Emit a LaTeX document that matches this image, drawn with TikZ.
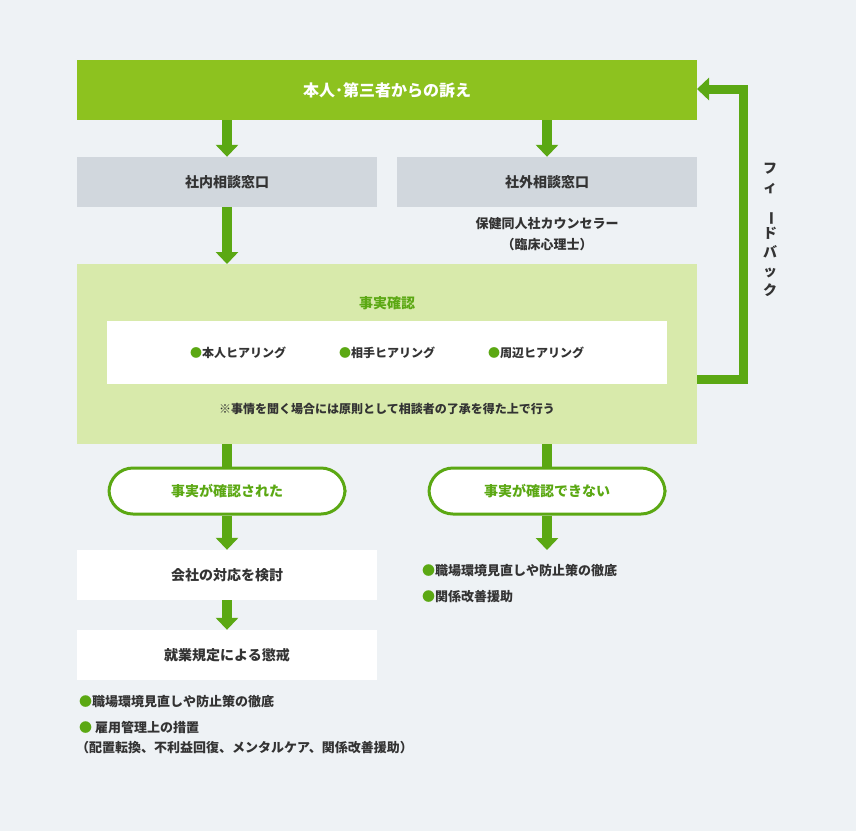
\documentclass[tikz,border=0pt]{standalone}
\usepackage{fontspec}
\usepackage{graphicx}
\setmainfont{Noto Sans CJK JP}
\usetikzlibrary{arrows.meta}
\definecolor{bg}{HTML}{EEF2F5}
\definecolor{lime}{HTML}{8DC21F}
\definecolor{grn}{HTML}{5BA813}
\definecolor{pale}{HTML}{D8EAAB}
\definecolor{gry}{HTML}{D1D7DD}
\definecolor{ink}{HTML}{333333}
\newcommand{\gb}{{\color{grn}●}}
\tikzset{
  box/.style={minimum width=300pt, minimum height=50pt, inner sep=0pt, font=\bfseries\fontsize{14}{16}\selectfont, text=ink},
  pill/.style={draw=grn, line width=3pt, fill=white, rounded corners=24pt, minimum width=236pt, minimum height=46pt, text=grn, font=\bfseries\fontsize{14}{16}\selectfont},
  txt/.style={text=ink, font=\bfseries\fontsize{12}{14}\selectfont, inner sep=0pt},
  flow/.style={draw=grn, line width=10pt, -{Triangle[width=22pt,length=12pt]}}
}
\begin{document}
\begin{tikzpicture}[x=1pt,y=-1pt]
        \fill[bg] (0,0) rectangle (856,831);
        \useasboundingbox (0,0) rectangle (856,831);
        % top
        \node[fill=lime, minimum width=620pt, minimum height=60pt, inner sep=0pt, text=white, font=\bfseries\fontsize{16}{18}\selectfont] (claim) at (387,90) {本人･第三者からの訴え};
        \node[box, fill=gry] (inner) at (227,182) {社内相談窓口};
        \node[box, fill=gry] (outer) at (547,182) {社外相談窓口};
        \node[txt, align=center, font=\bfseries\fontsize{13}{21}\selectfont] (couns) at (547,234) {保健同人社カウンセラー\\（臨床心理士）};
        % check
        \node[fill=pale, minimum width=620pt, minimum height=180pt, inner sep=0pt] (check) at (387,354) {};
        \node[text=grn, font=\bfseries\fontsize{14}{16}\selectfont] (checkt) at (387,303) {事実確認};
        \node[fill=white, minimum width=560pt, minimum height=63pt] (hear) at (387,352.5) {};
        \node[txt] (h1) at (238,353) {\gb 本人ヒアリング};
        \node[txt] (h2) at (387,353) {\gb 相手ヒアリング};
        \node[txt] (h3) at (536,353) {\gb 周辺ヒアリング};
        \node[txt] (note) at (387,409) {※事情を聞く場合には原則として相談者の了承を得た上で行う};
        % results
        \node[pill] (yes) at (227,491) {事実が確認された};
        \node[pill] (no) at (547,491) {事実が確認できない};
        \node[box, fill=white] (study) at (227,575) {会社の対応を検討};
        \node[box, fill=white] (punish) at (227,655) {就業規定による懲戒};
        \node[txt, anchor=west, align=left, font=\bfseries\fontsize{13}{26}\selectfont] (noact) at (422,584) {\gb 職場環境見直しや防止策の徹底\\\gb 関係改善援助};
        \node[txt, anchor=north west, align=left, font=\bfseries\fontsize{13}{20}\selectfont] (yesact) at (79,695) {\gb 職場環境見直しや防止策の徹底\\[6pt]\gb\ 雇用管理上の措置\\ \hspace{-3pt}（配置転換、不利益回復、メンタルケア、関係改善援助）};
        % arrows
        \draw[flow] (227,120) -- (inner.north);
        \draw[flow] (547,120) -- (outer.north);
        \draw[flow] (inner.south) -- (227,264);
        \draw[grn, line width=10pt] (227,444) -- (yes.north);
        \draw[grn, line width=10pt] (547,444) -- (no.north);
        \draw[flow] (yes.south) -- (study.north);
        \draw[flow] (no.south) -- (547,550);
        \draw[flow] (study.south) -- (punish.north);
        % feedback
        \coordinate (fb) at (697,379);
        \draw[draw=grn, line width=9pt, -{Triangle[width=22pt,length=12pt]}] (fb) -- (743,379) -- (743,89) -- (697,89);
        \node[txt, align=center, font=\bfseries\fontsize{14}{19}\selectfont] (fbt) at (770,230) {フ\\ィ\\\rotatebox{-90}{ー}\\ド\\バ\\ッ\\ク};
\end{tikzpicture}
\end{document}
